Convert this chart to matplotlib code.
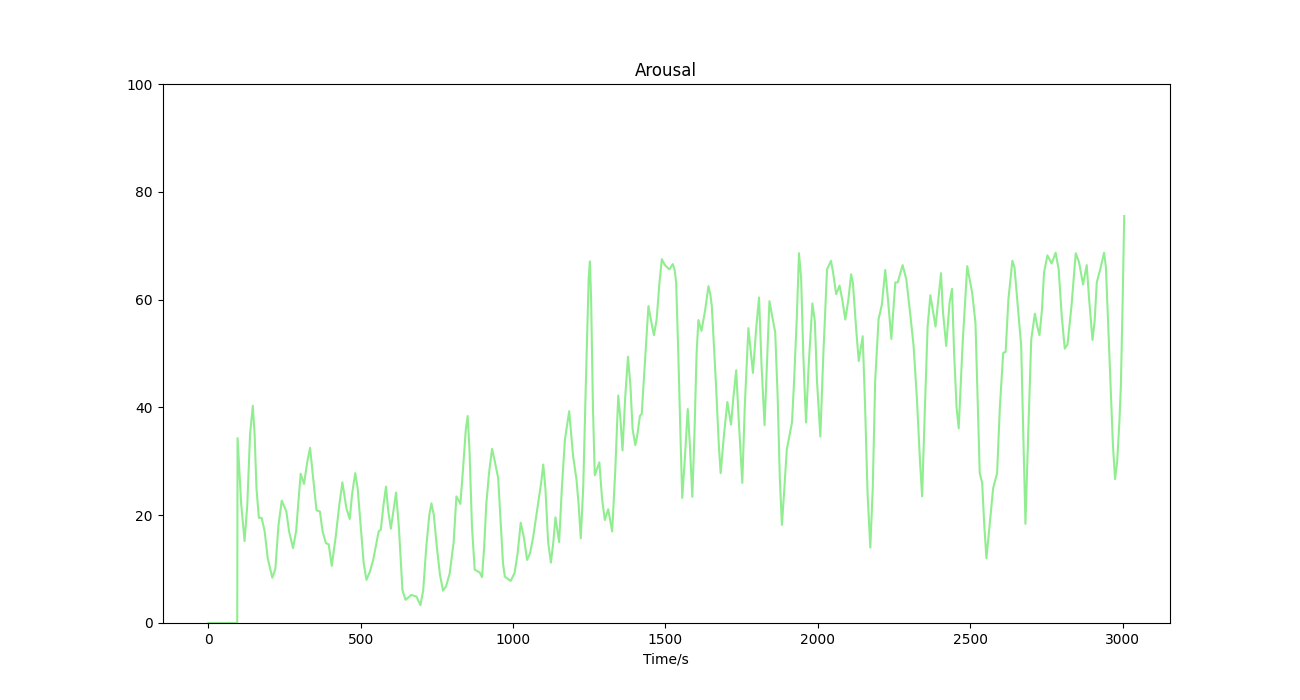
import matplotlib
matplotlib.use("Agg")
from matplotlib import pyplot as plt

# time (s) and arousal values
time = [0, 95, 96, 108, 119, 128, 137, 146, 152, 158, 166, 175, 185, 195, 210, 220, 230, 241,
        256, 265, 278, 288, 303, 314, 325, 334, 342, 355, 366, 375, 386, 395, 405, 418, 430,
        440, 453, 464, 472, 482, 490, 500, 510, 519, 530, 541, 559, 566, 575, 583, 590, 599,
        608, 616, 625, 637, 647, 666, 683, 696, 705, 715, 725, 732, 740, 750, 760, 770, 780,
        792, 805, 814, 827, 835, 845, 851, 857, 865, 874, 890, 898, 905, 912, 921, 931, 940,
        951, 960, 967, 973, 992, 1005, 1015, 1025, 1035, 1046, 1056, 1066, 1082, 1092, 1099,
        1106, 1115, 1124, 1132, 1139, 1151, 1160, 1170, 1184, 1197, 1208, 1215, 1222, 1230,
        1239, 1248, 1252, 1256, 1262, 1268, 1283, 1292, 1301, 1312, 1325, 1335, 1345, 1352,
        1359, 1368, 1377, 1385, 1392, 1401, 1408, 1416, 1422, 1432, 1444, 1455, 1462, 1471,
        1480, 1488, 1498, 1513, 1524, 1530, 1535, 1542, 1550, 1555, 1563, 1573, 1580, 1588,
        1595, 1602, 1608, 1618, 1630, 1641, 1647, 1652, 1665, 1675, 1681, 1692, 1703, 1715,
        1723, 1732, 1740, 1752, 1760, 1772, 1787, 1798, 1807, 1815, 1825, 1833, 1841, 1850,
        1860, 1868, 1875, 1882, 1890, 1898, 1915, 1922, 1931, 1938, 1945, 1952, 1961, 1970,
        1982, 1990, 1997, 2008, 2018, 2030, 2043, 2050, 2060, 2071, 2080, 2090, 2100, 2109,
        2115, 2125, 2134, 2147, 2155, 2163, 2172, 2180, 2188, 2199, 2210, 2221, 2230, 2241,
        2254, 2262, 2278, 2290, 2303, 2314, 2325, 2335, 2342, 2350, 2360, 2369, 2386, 2404,
        2410, 2421, 2432, 2440, 2447, 2455, 2462, 2475, 2490, 2506, 2517, 2525, 2531, 2539,
        2546, 2553, 2563, 2575, 2588, 2597, 2608, 2616, 2625, 2638, 2645, 2656, 2667, 2674,
        2681, 2690, 2700, 2712, 2720, 2727, 2735, 2742, 2753, 2767, 2780, 2790, 2800, 2810,
        2819, 2832, 2846, 2857, 2870, 2882, 2890, 2901, 2908, 2915, 2925, 2939, 2945, 2950,
        2961, 2968, 2975, 2982, 2989, 2994, 3000, 3005]
arousal = [0, 0, 34.3, 22, 15.2, 22, 35, 40.3, 35, 25, 19.5, 19.5, 17, 12, 8.4, 10, 18, 22.7,
           20.7, 17, 13.9, 17, 27.7, 25.8, 30, 32.5, 28, 20.9, 20.7, 17, 14.8, 14.6, 10.6, 16, 22,
           26.1, 21.3, 19.3, 24, 27.8, 25, 18, 11, 8.0, 9.5, 11.7, 17.0, 17.3, 22, 25.3, 21, 17.5,
           21, 24.2, 18, 6.1, 4.3, 5.2, 4.9, 3.3, 6, 14, 20, 22.2, 20, 14, 9, 6.0, 6.8,
           9.2, 15, 23.5, 22.1, 28, 36, 38.4, 32, 18, 9.9, 9.4, 8.5, 14, 22, 27.8, 32.3, 30,
           26.9, 18, 11, 8.6, 7.8, 9.3, 13, 18.6, 16, 11.7, 13, 16.0, 22.2, 26, 29.4,
           25, 15, 11.2, 15, 19.6, 15.0, 25, 34.0, 39.3, 30.9, 26.6, 22, 15.7, 25,
           45, 64, 67.1, 60, 40, 27.4, 29.8, 23, 19.1, 21.1, 17.0, 28, 42.2, 38,
           32.0, 42, 49.4, 44, 36, 33.0, 35, 38.4, 38.8, 48, 58.8, 55.4, 53.4, 56.3,
           63, 67.5, 66.4, 65.6, 66.6, 65.5, 63.2, 50, 33, 23.2, 30, 39.7, 33, 23.4,
           35, 50, 56.2, 54.2, 58, 62.5, 61, 58.8, 45, 33, 27.8, 35, 41.0, 36.8,
           42, 46.9, 38, 26.0, 40, 54.7, 46.4, 55, 60.4, 48, 36.7, 48, 59.7, 57,
           53.9, 42, 27, 18.2, 25, 32.2, 37.2, 45, 56.9, 68.6, 64, 50, 37.2, 48,
           59.3, 56, 45, 34.6, 50, 65.6, 67.2, 65, 61.0, 62.6, 60, 56.3, 60, 64.7,
           63, 55, 48.6, 53.2, 40, 24, 14.0, 25, 45, 56.3, 59.1, 65.5, 60, 52.7,
           63.2, 63.2, 66.4, 63.8, 57.3, 51.4, 41.5, 30, 23.5, 38, 55, 60.8, 55.0, 64.9,
           58, 51.4, 59.4, 62.0, 50, 40, 36.1, 52, 66.2, 61.3, 55.7, 40, 27.8, 26.0,
           18, 12.0, 18, 25.0, 27.8, 40, 50.1, 50.3, 60, 67.2, 66, 58.8, 51.4, 35,
           18.4, 35, 52.6, 57.4, 55, 53.4, 58, 65.0, 68.2, 66.7, 68.7, 65.6, 57, 50.9,
           51.7, 58.8, 68.6, 66.9, 62.8, 66.4, 60, 52.5, 56, 63.2, 65.3, 68.7, 66, 58.8,
           43.3, 33, 26.7, 30, 37.1, 43.9, 60, 75.5]

fig = plt.figure(figsize=(13, 7), dpi=100)
plt.plot(time, arousal, color="lightgreen")
plt.ylim([0, 100])
plt.title("Arousal")
plt.xlabel("Time/s")
plt.savefig("out.png")
